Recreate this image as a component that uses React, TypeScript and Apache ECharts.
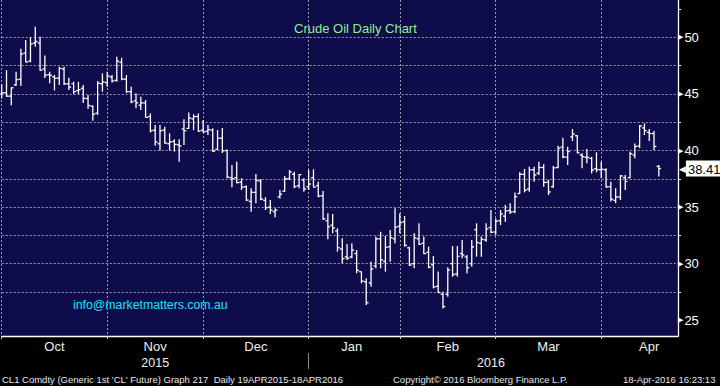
import React, { useEffect, useRef } from 'react';
import * as echarts from 'echarts';

// ---- data (index 0 = 30 Sep 2015 ... index 137 = 18 Apr 2016) ----
const OPEN = [
  45.0, 45.1, 44.8, 45.8, 46.3, 48.6, 47.9, 49.5, 49.5, 47.2,
  46.7, 46.5, 46.4, 47.2, 45.9, 45.9, 45.3, 45.5, 44.6, 43.9,
  43.3, 45.9, 46.0, 46.5, 46.2, 47.8, 46.3, 45.2, 44.4, 44.0,
  44.2, 43.0, 41.8, 40.6, 41.8, 40.6, 40.8, 40.5, 41.9, 41.95,
  42.8, 43.0, 41.8, 41.7, 41.8, 40.1, 41.1, 40.0, 37.6, 37.6,
  37.2, 36.8, 35.5, 36.3, 37.3, 35.6, 35.0, 34.6, 35.9, 36.4,
  37.5, 37.9, 36.9, 37.4, 36.8, 37.6, 36.9, 36.0, 33.8, 33.4,
  32.9, 31.3, 30.6, 30.6, 30.9, 29.3, 28.4, 28.3, 29.8, 32.2,
  30.2, 31.5, 32.2, 33.3, 33.7, 31.4, 30.0, 32.2, 31.8, 31.0,
  29.9, 28.0, 27.3, 27.3, 30.0, 29.1, 30.9, 30.6, 30.0, 33.0,
  31.8, 32.1, 33.2, 32.8, 33.8, 34.2, 34.7, 34.6, 36.2, 37.9,
  36.6, 38.3, 38.0, 38.5, 37.2, 36.8, 38.5, 40.3, 39.4, 41.2,
  41.3, 39.6, 39.4, 39.3, 38.4, 38.3, 38.3, 36.8, 35.6, 35.9,
  37.6, 37.6, 39.6, 40.4, 42.0, 41.6, 41.5, 38.6,
];
const HIGH = [
  45.85, 47.1, 45.6, 46.96, 49.0, 49.76, 50.0, 50.93, 50.05, 48.4,
  46.96, 46.67, 47.4, 47.4, 46.43, 46.08, 46.08, 45.79, 44.9, 44.0,
  46.14, 46.82, 46.96, 46.67, 48.29, 48.2, 46.67, 45.64, 45.05, 44.75,
  44.46, 43.28, 42.25, 42.25, 42.1, 41.52, 40.99, 40.99, 42.76, 43.35,
  43.2, 43.28, 42.7, 42.25, 41.96, 41.81, 42.0, 40.1, 38.72, 39.0,
  37.55, 36.9, 36.66, 37.93, 37.45, 35.87, 35.63, 34.9, 36.51, 37.75,
  38.28, 38.13, 37.93, 37.55, 38.28, 38.34, 37.25, 36.43, 34.45, 34.39,
  33.13, 32.24, 31.74, 31.8, 31.21, 29.3, 28.71, 30.18, 32.4, 32.82,
  32.45, 32.98, 34.9, 34.45, 34.21, 31.5, 32.68, 33.57, 32.4, 31.5,
  30.68, 29.3, 27.53, 29.68, 31.56, 31.56, 32.1, 30.77, 32.1, 33.57,
  32.4, 33.57, 34.74, 34.0, 34.74, 35.19, 35.34, 36.3, 38.07, 38.37,
  38.57, 38.57, 39.0, 38.78, 37.4, 38.63, 40.42, 41.13, 40.34, 41.9,
  41.37, 39.75, 40.13, 39.45, 39.84, 39.0, 38.43, 37.25, 36.66, 37.84,
  37.84, 39.9, 40.63, 42.25, 42.4, 41.9, 41.72, 38.72,
];
const LOW = [
  44.6, 44.75, 44.0, 45.72, 45.7, 47.8, 47.8, 49.17, 47.05, 46.4,
  45.94, 45.3, 45.8, 45.8, 45.34, 45.0, 45.0, 44.2, 43.7, 42.63,
  43.14, 45.2, 45.64, 46.02, 46.08, 46.2, 45.1, 44.17, 43.73, 43.58,
  42.9, 41.6, 40.43, 40.0, 40.6, 40.0, 39.9, 39.01, 40.49, 41.9,
  41.8, 41.66, 41.57, 41.37, 39.9, 40.04, 39.78, 37.55, 36.75, 37.1,
  36.5, 35.55, 34.6, 35.34, 35.6, 34.74, 34.39, 34.1, 35.77, 36.36,
  37.4, 36.66, 36.66, 36.36, 36.51, 36.75, 35.87, 33.86, 32.16, 32.68,
  31.06, 30.03, 30.33, 30.48, 29.15, 28.27, 26.35, 27.97, 29.59, 29.59,
  29.3, 30.18, 31.8, 32.68, 31.5, 29.8, 29.59, 31.65, 30.85, 29.6,
  27.82, 27.4, 26.05, 27.08, 28.85, 28.85, 30.48, 29.15, 29.74, 30.62,
  30.62, 31.94, 32.68, 32.53, 33.42, 33.7, 34.4, 34.45, 36.16, 36.3,
  36.36, 37.25, 37.84, 36.8, 36.07, 36.72, 38.43, 39.31, 38.72, 40.84,
  39.75, 38.43, 38.87, 37.98, 38.07, 37.55, 36.72, 35.5, 35.34, 35.63,
  36.51, 37.55, 39.31, 40.2, 41.37, 40.84, 40.04, 37.7,
];
const CLOSE = [
  45.09, 44.8, 45.54, 46.26, 48.53, 47.81, 49.43, 49.63, 47.10, 46.66,
  46.64, 46.38, 47.26, 45.89, 45.6, 45.2, 45.38, 44.60, 43.98, 43.20,
  45.94, 46.06, 46.59, 46.14, 47.90, 46.32, 45.20, 44.29, 44.21, 44.21,
  42.93, 41.75, 40.74, 41.74, 40.67, 40.75, 40.54, 40.4, 41.75, 42.87,
  43.0, 41.71, 41.65, 41.85, 39.94, 41.08, 39.97, 37.65, 37.51, 37.16,
  36.76, 35.62, 36.31, 37.35, 35.7, 34.95, 34.73, 34.74, 36.14, 37.50,
  38.10, 36.81, 37.87, 36.60, 37.04, 36.76, 35.97, 33.97, 33.27, 33.16,
  31.41, 30.44, 30.48, 31.20, 29.42, 28.46, 26.55, 29.53, 32.19, 30.34,
  31.45, 32.30, 33.22, 33.62, 31.62, 29.88, 32.28, 31.72, 30.89, 29.69,
  27.94, 27.45, 26.21, 29.44, 29.04, 30.66, 30.77, 29.64, 31.48, 31.87,
  32.15, 33.07, 32.78, 33.75, 34.40, 34.66, 34.57, 35.92, 37.90, 36.50,
  38.29, 37.84, 38.50, 37.18, 36.34, 38.46, 40.20, 39.44, 39.91, 41.45,
  39.79, 39.46, 39.39, 38.28, 38.32, 38.34, 36.79, 35.70, 35.89, 37.75,
  37.26, 39.72, 40.36, 42.17, 41.76, 41.50, 40.36, 38.41,
];

const START = '2015-09-30';
const AXIS_END = '2016-04-22';
const CAL_END = '2016-04-29';
const HOLIDAYS = ['2015-11-26', '2015-12-25', '2016-01-01', '2016-01-18', '2016-02-15', '2016-03-25'];
const MONTHS = ['Jan', 'Feb', 'Mar', 'Apr', 'May', 'Jun', 'Jul', 'Aug', 'Sep', 'Oct', 'Nov', 'Dec'];
const Y_LABELS = [25, 30, 35, 40, 45, 50];
const Y_TICKS = [25, 27.5, 30, 32.5, 35, 37.5, 40, 42.5, 45, 47.5, 50, 52.5];
const Y_MIN = 23.61;
const Y_MAX = 53.3;

const TITLE = 'Crude Oil Daily Chart';
const EMAIL = 'info@marketmatters.com.au';
const FOOT_LEFT = "CL1 Comdty (Generic 1st 'CL' Future) Graph 217  Daily 19APR2015-18APR2016";
const FOOT_MID = 'Copyright\u00A9 2016 Bloomberg Finance L.P.';
const FOOT_RIGHT = '18-Apr-2016 16:23:13';

function tradingDays(from: string, to: string): string[] {
  const out: string[] = [];
  const p = (s: string) => { const [y, m, d] = s.split('-').map(Number); return Date.UTC(y, m - 1, d); };
  const end = p(to);
  for (let t = p(from); t <= end; t += 86400000) {
    const dt = new Date(t);
    const wd = dt.getUTCDay();
    if (wd === 0 || wd === 6) continue;
    const s = dt.toISOString().slice(0, 10);
    if (HOLIDAYS.includes(s)) continue;
    out.push(s);
  }
  return out;
}

const CAL = tradingDays(START, CAL_END);
const DATES = CAL.filter((d) => d <= AXIS_END);
const ym = (d: string) => d.slice(0, 7);

const MONTH_END = new Set<number>();
DATES.forEach((d, i) => {
  if (i < DATES.length - 1 && ym(DATES[i + 1]) !== ym(d)) MONTH_END.add(i);
});
const lastIdxOfMonth = (m: string) => {
  let idx = -1;
  CAL.forEach((d, i) => { if (ym(d) === m) idx = i; });
  return idx;
};
const MONTH_LABEL = new Set<number>();
const monthsInAxis = Array.from(new Set(DATES.map(ym)));
for (let j = 1; j < monthsInAxis.length; j++) {
  const prevEnd = lastIdxOfMonth(monthsInAxis[j - 1]);
  const end = lastIdxOfMonth(monthsInAxis[j]);
  const idx = Math.floor((prevEnd + end) / 2);
  if (idx < DATES.length) MONTH_LABEL.add(idx);
}
let YEAR_SPLIT = 0;
DATES.forEach((d, i) => { if (d.startsWith('2015')) YEAR_SPLIT = i; });
const YEAR_LABEL = new Set<number>([
  Math.floor(YEAR_SPLIT / 2),
  Math.floor((YEAR_SPLIT + DATES.length - 1) / 2),
]);

const FONT = '"Liberation Sans", Arial, sans-serif';

export default function App() {
  const ref = useRef<HTMLDivElement>(null);
  useEffect(() => {
    if (!ref.current) return;
    const chart = echarts.init(ref.current, undefined, { renderer: 'svg' });
    const data = CLOSE.map((c, i) => [i, OPEN[i], HIGH[i], LOW[i], c]);
    const last = CLOSE[CLOSE.length - 1];
    const option: any = {
      animation: false,
      backgroundColor: '#000000',
      textStyle: { fontFamily: FONT },
      grid: { left: 1.7, right: 42, top: 0, bottom: 50, outerBoundsMode: 'none', containLabel: false },
      xAxis: [
        {
          type: 'category',
          data: DATES,
          boundaryGap: false,
          axisLine: { show: true, lineStyle: { color: '#ffffff', width: 1.3 } },
          axisTick: { show: true, interval: (i: number) => MONTH_END.has(i), length: 3, lineStyle: { color: '#cccccc' } },
          axisLabel: {
            interval: (i: number) => MONTH_LABEL.has(i),
            formatter: (v: string) => MONTHS[Number(v.slice(5, 7)) - 1],
            color: '#eeeeee', fontSize: 13, margin: 4, fontFamily: FONT,
          },
          splitLine: {
            show: true,
            interval: (i: number) => MONTH_END.has(i),
            lineStyle: { color: '#9a9aa6', type: [2, 2], width: 1 },
          },
        },
        {
          type: 'category',
          data: DATES,
          boundaryGap: false,
          position: 'bottom',
          offset: 17,
          axisLine: { show: false },
          axisTick: { show: true, interval: (i: number) => i === YEAR_SPLIT, length: 16, lineStyle: { color: '#8a8a8a' } },
          axisLabel: {
            interval: (i: number) => YEAR_LABEL.has(i),
            formatter: (v: string) => v.slice(0, 4),
            color: '#eeeeee', fontSize: 12.5, margin: 3, fontFamily: FONT,
          },
          splitLine: { show: false },
        },
      ],
      yAxis: [
        {
          type: 'value',
          position: 'right',
          min: Y_MIN,
          max: Y_MAX,
          splitNumber: 5,
          axisLine: { show: true, lineStyle: { color: '#ffffff', width: 1.3 } },
          axisTick: { show: true, customValues: Y_TICKS, length: 3, lineStyle: { color: '#ffffff' } },
          axisLabel: {
            customValues: Y_LABELS,
            margin: 0,
            formatter: (v: number) => `{t|\u25B6}{v|${v}}`,
            rich: {
              t: { fontSize: 7, color: '#ffffff', fontFamily: 'DejaVu Sans' },
              v: { fontSize: 13, color: '#ffffff', padding: [0, 0, 0, 1], fontFamily: FONT },
            },
          },
          splitLine: { show: true, showMinLine: false, showMaxLine: false, lineStyle: { color: '#9a9aa6', type: [2, 2], width: 1 } },
        },
        {
          type: 'value',
          position: 'right',
          min: Y_MIN,
          max: Y_MAX,
          axisLine: { show: false },
          axisTick: { show: false },
          splitLine: { show: false },
          axisLabel: {
            customValues: [last],
            margin: 1,
            formatter: (v: number) => `{p|\u25C0}{b|${v.toFixed(2)}}`,
            rich: {
              p: { fontSize: 9, color: '#ffffff', fontFamily: 'DejaVu Sans', padding: [0, 0, 0, 0] },
              b: { fontSize: 13, color: '#000000', backgroundColor: '#ffffff', padding: [2, 2, 1, 2], fontFamily: FONT },
            },
          },
        },
      ],
      series: [
        {
          type: 'custom',
          xAxisIndex: 0,
          yAxisIndex: 0,
          data,
          encode: { x: 0, y: [1, 2, 3, 4] },
          renderItem: (params: any, api: any) => {
            const i = api.value(0);
            const o = api.coord([i, api.value(1)]);
            const h = api.coord([i, api.value(2)]);
            const l = api.coord([i, api.value(3)]);
            const c = api.coord([i, api.value(4)]);
            const x = o[0];
            const st = { stroke: '#ffffff', lineWidth: 1.3 };
            return {
              type: 'group',
              children: [
                { type: 'line', shape: { x1: x, y1: h[1], x2: x, y2: l[1] }, style: st },
                { type: 'line', shape: { x1: x - 2.3, y1: o[1], x2: x, y2: o[1] }, style: st },
                { type: 'line', shape: { x1: x, y1: c[1], x2: x + 2.3, y2: c[1] }, style: st },
              ],
            };
          },
        },
      ],
      graphic: {
        elements: [
          { type: 'rect', z: -100, silent: true, shape: { x: 0, y: 0, width: 678, height: 336 }, style: { fill: '#0e0c4b' } },
          { type: 'text', left: 294, top: 22, z: 100, style: { text: TITLE, fill: '#8ef08e', font: `13px ${FONT}` } },
          { type: 'text', left: 73, top: 299, z: 100, style: { text: EMAIL, fill: '#1ee0f8', font: `12.3px ${FONT}` } },
          { type: 'text', left: 2, top: 374, z: 100, style: { text: FOOT_LEFT, fill: '#e6e6ee', font: `9.5px ${FONT}` } },
          { type: 'text', left: 393, top: 374, z: 100, style: { text: FOOT_MID, fill: '#e6e6ee', font: `9.5px ${FONT}` } },
          { type: 'text', left: 623, top: 374, z: 100, style: { text: FOOT_RIGHT, fill: '#e6e6ee', font: `9.5px ${FONT}` } },
        ],
      },
    };
    chart.setOption(option);
    return () => chart.dispose();
  }, []);
  return <div ref={ref} style={{ position: 'fixed', left: 0, top: 0, width: 720, height: 386 }} />;
}
